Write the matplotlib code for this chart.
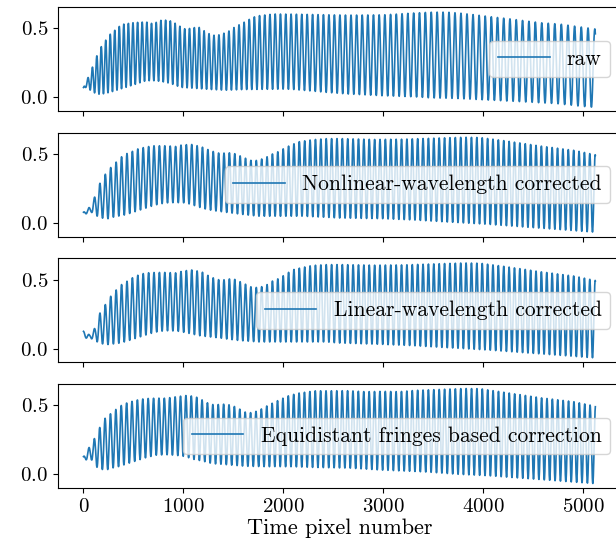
import numpy as np
import matplotlib.pyplot as plt

plt.rcParams['font.family'] = ['cmr10', 'DejaVu Serif']
plt.rcParams['mathtext.fontset'] = 'cm'
plt.rcParams['axes.unicode_minus'] = False
plt.rcParams['axes.formatter.use_mathtext'] = True

n_pixels = 5120
labels = ['raw', 'Nonlinear-wavelength corrected',
          'Linear-wavelength corrected', 'Equidistant fringes based correction']

# upper / lower fringe envelopes (time pixel, intensity)
raw_up_x = [0, 30, 70, 110, 150, 195, 235, 280, 320, 360, 400, 485, 570, 650, 700, 755, 840, 890,
            920, 975, 1010, 1090, 1140, 1190, 1240, 1290, 1340, 1390, 1440, 1480, 1520, 1570, 1620,
            1670, 1720, 1770, 1900, 2100, 2320, 2650, 3000, 3320, 3500, 3650, 3800, 3950, 4100,
            4250, 4400, 4580, 4750, 4900, 5120]
raw_up = [0.07, 0.12, 0.18, 0.26, 0.33, 0.39, 0.425, 0.47, 0.49, 0.515, 0.53, 0.54, 0.545, 0.545,
          0.53, 0.557, 0.56, 0.55, 0.535, 0.51, 0.497, 0.50, 0.515, 0.49, 0.466, 0.45, 0.45, 0.46,
          0.475, 0.49, 0.515, 0.53, 0.55, 0.57, 0.587, 0.594, 0.604, 0.603, 0.60, 0.596, 0.598,
          0.612, 0.618, 0.617, 0.608, 0.595, 0.582, 0.57, 0.556, 0.54, 0.532, 0.517, 0.495]
raw_lo_x = [0, 40, 82, 122, 162, 222, 288, 355, 420, 522, 622, 688, 755, 822, 888, 938, 988, 1090,
            1255, 1420, 1600, 1755, 2000, 2090, 2255, 2420, 2655, 2990, 3320, 3455, 3740, 4070,
            4400, 4740, 5000, 5120]
raw_lo = [0.07, 0.07, 0.04, 0.027, 0.02, 0.027, 0.04, 0.055, 0.07, 0.094, 0.118, 0.12, 0.115,
          0.108, 0.094, 0.08, 0.07, 0.065, 0.056, 0.05, 0.055, 0.056, 0.058, 0.056, 0.046, 0.035,
          0.022, 0.01, 0.002, -0.005, -0.01, -0.022, -0.034, -0.048, -0.068, -0.075]

nl_up_x = [0, 28, 78, 148, 195, 255, 312, 372, 422, 482, 538, 605, 688, 822, 922, 988, 1090, 1188,
           1272, 1355, 1420, 1488, 1555, 1622, 1688, 1755, 1822, 1888, 1955, 2022, 2090, 2155,
           2288, 2422, 2600, 2900, 3200, 3450, 3800, 3970, 4240, 4575, 4905, 5120]
nl_up = [0.077, 0.10, 0.12, 0.266, 0.33, 0.39, 0.43, 0.476, 0.50, 0.517, 0.536, 0.548, 0.56, 0.56,
         0.555, 0.567, 0.57, 0.55, 0.524, 0.507, 0.507, 0.51, 0.49, 0.469, 0.45, 0.456, 0.475,
         0.50, 0.52, 0.548, 0.57, 0.59, 0.604, 0.612, 0.612, 0.606, 0.608, 0.614, 0.622, 0.62,
         0.594, 0.558, 0.527, 0.495]
nl_lo_x = [0, 78, 138, 188, 240, 290, 360, 420, 520, 620, 720, 822, 922, 1020, 1090, 1188, 1290,
           1420, 1620, 1755, 2000, 2200, 2422, 2555, 2990, 3320, 3450, 3740, 4070, 4400, 4740,
           5105, 5120]
nl_lo = [0.06, 0.077, 0.048, 0.034, 0.029, 0.04, 0.05, 0.058, 0.082, 0.106, 0.13, 0.145, 0.147,
         0.145, 0.13, 0.106, 0.089, 0.077, 0.058, 0.048, 0.048, 0.048, 0.04, 0.035, 0.03, 0.02,
         0.014, 0.002, -0.012, -0.03, -0.048, -0.068, -0.07]

lin_up_x = [0, 60, 115, 165, 222, 278, 332, 388, 438, 495, 555, 622, 722, 822, 922, 1005, 1090,
            1188, 1272, 1355, 1420, 1488, 1555, 1622, 1688, 1755, 1822, 1888, 1955, 2022, 2090,
            2155, 2288, 2422, 2600, 2900, 3200, 3450, 3800, 3970, 4240, 4575, 4905, 5120]
lin_up = [0.125, 0.10, 0.15, 0.26, 0.324, 0.386, 0.43, 0.47, 0.49, 0.517, 0.536, 0.55, 0.553,
          0.553, 0.55, 0.565, 0.572, 0.555, 0.52, 0.50, 0.50, 0.51, 0.49, 0.467, 0.444, 0.444,
          0.458, 0.49, 0.51, 0.54, 0.572, 0.584, 0.604, 0.61, 0.61, 0.606, 0.608, 0.614, 0.622,
          0.62, 0.594, 0.558, 0.527, 0.495]
lin_lo_x = [0, 15, 88, 138, 188, 248, 305, 372, 455, 555, 655, 755, 855, 955, 1055, 1155, 1255,
            1355, 1555, 1755, 2000, 2422, 2555, 2990, 3320, 3450, 3740, 4070, 4400, 4740, 5105,
            5120]
lin_lo = [0.09, 0.077, 0.07, 0.048, 0.034, 0.029, 0.034, 0.04, 0.058, 0.082, 0.106, 0.125, 0.13,
          0.125, 0.11, 0.094, 0.085, 0.077, 0.058, 0.048, 0.048, 0.048, 0.04, 0.03, 0.02, 0.014,
          0.002, -0.012, -0.03, -0.048, -0.068, -0.07]

eq_up_x = [0, 48, 105, 155, 205, 262, 322, 378, 438, 488, 555, 622, 722, 822, 922, 1022, 1090,
           1155, 1222, 1288, 1355, 1420, 1488, 1555, 1622, 1688, 1755, 1855, 1955, 2055, 2155,
           2322, 2655, 2822, 2988, 3155, 3322, 3455, 3805, 3970, 4240, 4575, 4905, 5120]
eq_up = [0.128, 0.186, 0.254, 0.33, 0.40, 0.435, 0.47, 0.50, 0.52, 0.53, 0.543, 0.55, 0.553,
         0.553, 0.563, 0.572, 0.568, 0.555, 0.524, 0.507, 0.507, 0.51, 0.50, 0.476, 0.45, 0.447,
         0.465, 0.505, 0.54, 0.572, 0.59, 0.607, 0.607, 0.60, 0.603, 0.60, 0.61, 0.614, 0.623,
         0.622, 0.592, 0.556, 0.527, 0.495]
eq_lo_x = [0, 80, 122, 172, 228, 288, 355, 420, 522, 622, 722, 822, 922, 1022, 1090, 1188, 1288,
           1420, 1622, 1822, 2090, 2322, 2655, 2988, 3322, 3455, 3740, 4070, 4405, 4740, 5105,
           5120]
eq_lo = [0.105, 0.105, 0.056, 0.036, 0.031, 0.045, 0.056, 0.072, 0.096, 0.12, 0.138, 0.142,
         0.138, 0.128, 0.11, 0.096, 0.077, 0.07, 0.058, 0.055, 0.055, 0.049, 0.045, 0.03, 0.02,
         0.015, 0.0, -0.012, -0.03, -0.048, -0.068, -0.07]

# local fringe period in time pixels
period_x = [0, 1000, 2000, 3000, 4000, 5120]
raw_period = [44, 48, 53, 57, 61, 68]
nl_period = [54.5, 53.8, 53.8, 53.8, 53.8, 53.8]
lin_period = [54.5, 53.8, 53.8, 53.8, 53.8, 53.8]
eq_period = [53.9, 53.9, 53.9, 53.9, 53.9, 53.9]

envelopes = [
    (raw_up_x, raw_up, raw_lo_x, raw_lo, raw_period),
    (nl_up_x, nl_up, nl_lo_x, nl_lo, nl_period),
    (lin_up_x, lin_up, lin_lo_x, lin_lo, lin_period),
    (eq_up_x, eq_up, eq_lo_x, eq_lo, eq_period),
]

t = np.arange(n_pixels)


def fringe_signal(up_x, up, lo_x, lo, period):
    upper = np.interp(t, up_x, up)
    lower = np.interp(t, lo_x, lo)
    phase = np.cumsum(1.0 / np.interp(t, period_x, period)) - 1.0 / period[0]
    return 0.5 * (upper + lower) + 0.5 * (upper - lower) * np.cos(2 * np.pi * phase)


fig, axes = plt.subplots(4, 1, sharex=True, figsize=(6.16, 5.55), dpi=100)
fig.subplots_adjust(left=0.094, right=1.008, top=0.9874, bottom=0.1207, hspace=0.21)

for ax, env, label in zip(axes, envelopes, labels):
    ax.plot(t, fringe_signal(*env), color='#1f77b4', lw=1.2, label=label)
    ax.set_ylim(-0.10, 0.655)
    ax.set_yticks([0.0, 0.5])
    ax.tick_params(labelsize=15)
    ax.legend(loc='center right', fontsize=15.5, handlelength=2.4)

axes[-1].set_xlabel('Time pixel number', fontsize=16, labelpad=2)

fig.savefig('out.png', dpi=100)
